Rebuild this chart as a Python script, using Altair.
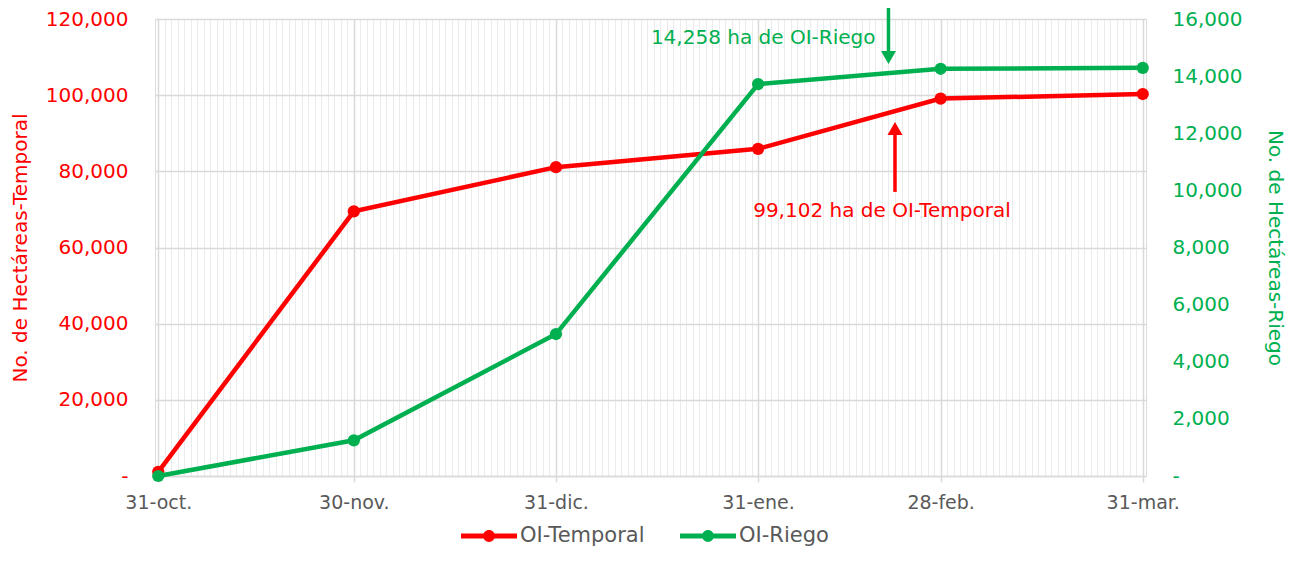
import altair as alt
import pandas as pd

# ---------------- data ----------------
dates = ["2022-10-31", "2022-11-30", "2022-12-31", "2023-01-31", "2023-02-28", "2023-03-31"]
temporal = [1100, 69500, 81100, 85900, 99102, 100300]
riego = [0, 1250, 4970, 13720, 14258, 14290]
series = ["OI-Temporal", "OI-Riego"]
colors = ["#FF0000", "#00B050"]
month_abbr = ["ene.", "feb.", "mar.", "abr.", "may.", "jun.", "jul.", "ago.", "sep.", "oct.", "nov.", "dic."]
left_ticks = [0, 20000, 40000, 60000, 80000, 100000, 120000]
right_ticks = [0, 2000, 4000, 6000, 8000, 10000, 12000, 14000, 16000]

# annotations
ann_t_text = ["99,102 ha de OI-Temporal"]
ann_t_text_date = ["2023-02-19"]
ann_t_text_y = [69600]
ann_t_arrow_date = ["2023-02-21"]
ann_t_arrow_from = [74600]
ann_t_arrow_to = [91250]

ann_r_text = ["14,258 ha de OI-Riego"]
ann_r_text_date = ["2023-02-18"]
ann_r_text_y = [15335]
ann_r_arrow_date = ["2023-02-20"]
ann_r_arrow_from = [16800]
ann_r_arrow_to = [14650]

FONT = "DejaVu Sans"
GRID = "#D9D9D9"
MINOR = "#EBEBEB"
TXT = "#595959"

df_t = pd.DataFrame({"date": dates, "y": temporal, "serie": series[0]})
df_r = pd.DataFrame({"date": dates, "y": riego, "serie": series[1]})
df_ta = pd.DataFrame({"date": ann_t_arrow_date, "y": ann_t_arrow_from, "y2": ann_t_arrow_to})
df_th = pd.DataFrame({"date": ann_t_arrow_date, "y": ann_t_arrow_to})
df_tt = pd.DataFrame({"date": ann_t_text_date, "y": ann_t_text_y, "txt": ann_t_text})
df_ra = pd.DataFrame({"date": ann_r_arrow_date, "y": ann_r_arrow_from, "y2": ann_r_arrow_to})
df_rh = pd.DataFrame({"date": ann_r_arrow_date, "y": ann_r_arrow_to})
df_rt = pd.DataFrame({"date": ann_r_text_date, "y": ann_r_text_y, "txt": ann_r_text})

# ---------------- scales / axes ----------------
is_month_end = "utcdate(time(datum.value) + 86400000) == 1"
js_months = "[" + ",".join("'" + m + "'" for m in month_abbr) + "]"
x_label_expr = (
    f"({is_month_end}) ? (utcdate(time(datum.value)) + '-' + "
    f"{js_months}[utcmonth(time(datum.value))]) : ''"
)

x_scale = alt.Scale(
    type="utc",
    domain=[
        alt.DateTime(year=2022, month=10, date=30, hours=12, utc=True),
        alt.DateTime(year=2023, month=3, date=31, hours=12, utc=True),
    ],
)
x_axis = alt.Axis(
    title=None,
    tickCount={"interval": "day", "step": 1},
    grid=True,
    gridColor={"condition": {"test": is_month_end, "value": GRID}, "value": MINOR},
    gridWidth={"condition": {"test": is_month_end, "value": 1.5}, "value": 1},
    ticks=True,
    tickColor=GRID,
    tickWidth=1.5,
    tickSize=6,
    tickOpacity={"condition": {"test": is_month_end, "value": 1}, "value": 0},
    labelExpr=x_label_expr,
    labelOverlap=False,
    labelFlush=False,
    labelFont=FONT,
    labelFontSize=19,
    labelColor=TXT,
    labelPadding=11,
    domainColor=GRID,
    domainWidth=1.5,
)
X = alt.X("date:T", scale=x_scale, axis=x_axis)

yt_scale = alt.Scale(domain=[0, 120000], nice=False, zero=True)
yt_axis = alt.Axis(
    orient="left",
    title="No. de Hectáreas-Temporal",
    values=left_ticks,
    grid=True,
    gridColor=GRID,
    gridWidth=1.5,
    ticks=False,
    tickSize=0,
    domain=False,
    labelExpr="datum.value == 0 ? '-' : format(datum.value, ',')",
    labelFont=FONT,
    labelFontSize=20,
    labelColor=colors[0],
    labelPadding=27,
    titleFont=FONT,
    titleFontSize=20,
    titleFontWeight="normal",
    titleColor=colors[0],
    titlePadding=18,
    minExtent=107,
    maxExtent=107,
)
yr_scale = alt.Scale(domain=[0, 16000], nice=False, zero=True)
yr_axis = alt.Axis(
    orient="right",
    title="No. de Hectáreas-Riego",
    values=right_ticks,
    grid=False,
    ticks=False,
    tickSize=0,
    domain=False,
    labelExpr="datum.value == 0 ? '-' : format(datum.value, ',')",
    labelFont=FONT,
    labelFontSize=20,
    labelColor=colors[1],
    labelPadding=26,
    titleFont=FONT,
    titleFontSize=20,
    titleFontWeight="normal",
    titleColor=colors[1],
    titlePadding=18,
    minExtent=100,
    maxExtent=100,
)
YT = alt.Y("y:Q", scale=yt_scale, axis=yt_axis)
YR = alt.Y("y:Q", scale=yr_scale, axis=yr_axis)

legend_path = (
    "M-1,-0.09H1V0.09H-1Z "
    "M-0.21,0a0.21,0.21 0 1,1 0.42,0a0.21,0.21 0 1,1 -0.42,0Z"
)
legend = alt.Legend(
    title=None,
    orient="none",
    legendX=306,
    legendY=489,
    direction="horizontal",
    symbolType=legend_path,
    symbolSize=3136,
    symbolStrokeWidth=0,
    symbolOpacity=1,
    labelFont=FONT,
    labelFontSize=21,
    labelColor=TXT,
    labelOffset=3,
    columnPadding=35,
)
color_scale = alt.Scale(domain=series, range=colors)
COLOR = alt.Color("serie:N", scale=color_scale, legend=legend)

# ---------------- temporal group ----------------
line_t = alt.Chart(df_t).mark_line(color=colors[0], strokeWidth=4.5).encode(x=X, y=YT)
pts_t = alt.Chart(df_t).mark_point(filled=True, size=150, opacity=1).encode(x=X, y=YT, color=COLOR)
arrow_t = alt.Chart(df_ta).mark_rule(color=colors[0], strokeWidth=3.5).encode(x=X, y=YT, y2="y2:Q")
head_t = alt.Chart(df_th).mark_point(shape="triangle-up", filled=True, size=225, opacity=1, color=colors[0]).encode(x=X, y=YT)
text_t = alt.Chart(df_tt).mark_text(font=FONT, fontSize=20, color=colors[0], align="center", baseline="middle").encode(x=X, y=YT, text="txt:N")
group_t = alt.layer(line_t, arrow_t, head_t, text_t, pts_t)

# ---------------- riego group ----------------
line_r = alt.Chart(df_r).mark_line(color=colors[1], strokeWidth=4.5).encode(x=X, y=YR)
pts_r = alt.Chart(df_r).mark_point(filled=True, size=150, opacity=1).encode(x=X, y=YR, color=COLOR)
arrow_r = alt.Chart(df_ra).mark_rule(color=colors[1], strokeWidth=3.5).encode(x=X, y=YR, y2="y2:Q")
head_r = alt.Chart(df_rh).mark_point(shape="triangle-down", filled=True, size=225, opacity=1, color=colors[1]).encode(x=X, y=YR)
text_r = alt.Chart(df_rt).mark_text(font=FONT, fontSize=20, color=colors[1], align="right", baseline="middle").encode(x=X, y=YR, text="txt:N")
group_r = alt.layer(line_r, arrow_r, head_r, text_r, pts_r)

chart = (
    alt.layer(group_t, group_r)
    .resolve_scale(y="independent")
    .properties(
        width=991,
        height=457,
        autosize=alt.AutoSizeParams(type="none"),
        padding={"left": 147, "top": 11, "right": 143, "bottom": 74},
    )
    .configure_view(stroke=GRID, strokeWidth=1.5)
    .configure(font=FONT)
)

chart.save("out.html", embed_options={"renderer": "svg", "actions": False})
